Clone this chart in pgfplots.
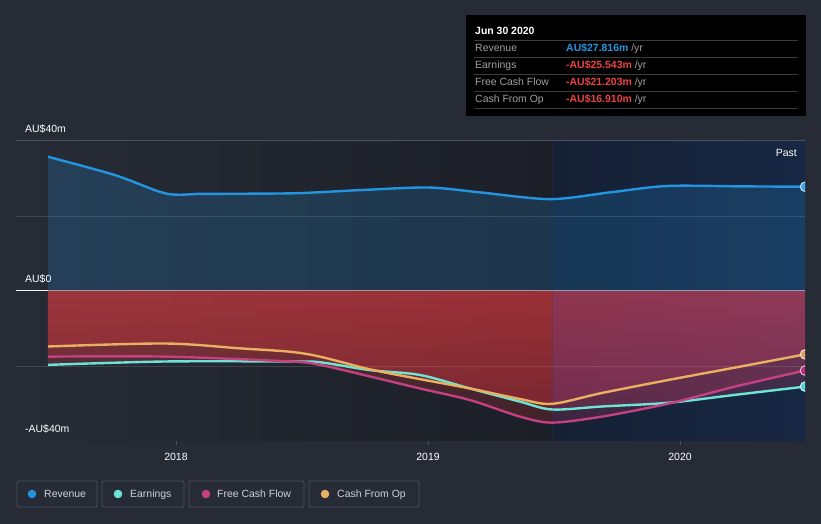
\documentclass[border=0pt]{standalone}
\usepackage{pgfplots}
\pgfplotsset{compat=1.18}
\usepackage{fontspec}
\setmainfont{Liberation Sans}
\definecolor{bg}{RGB}{38,43,54}
\definecolor{band}{RGB}{28,31,39}
\definecolor{pastL}{RGB}{22,32,52}
\definecolor{pastR}{RGB}{23,40,68}
\definecolor{pastedge}{RGB}{40,52,80}
\definecolor{rev}{RGB}{35,148,223}
\definecolor{earn}{RGB}{108,229,213}
\definecolor{fcf}{RGB}{196,64,128}
\definecolor{cfo}{RGB}{232,176,96}
\definecolor{redT}{RGB}{255,64,68}
\definecolor{redB}{RGB}{195,46,56}
\definecolor{purT}{RGB}{240,74,104}
\definecolor{purB}{RGB}{190,56,100}
\definecolor{gridc}{RGB}{74,80,92}
\definecolor{lgbord}{RGB}{75,82,98}
\definecolor{lgtext}{RGB}{205,209,216}
\definecolor{ttlab}{RGB}{160,160,160}
\definecolor{ttsep}{RGB}{60,60,60}
\definecolor{negred}{RGB}{235,68,68}
\definecolor{valblue}{RGB}{35,150,225}
\newcommand\fs{\fontsize{10.5}{12}\selectfont}

\pgfplotstableread{
x y
2017.492 35.8
2017.758 30.9
2017.960 26.0
2018.100 25.9
2018.300 25.95
2018.492 26.1
2018.730 26.9
2019.000 27.6
2019.206 26.3
2019.484 24.5
2019.722 26.3
2019.948 28.0
2020.238 27.9
2020.496 27.8
}\revtab

\pgfplotstableread{
x y
2017.492 -14.8
2017.956 -14.0
2018.254 -15.3
2018.452 -16.2
2018.571 -17.5
2018.770 -20.9
2018.968 -23.5
2019.167 -26.0
2019.365 -28.8
2019.492 -30.1
2019.690 -27.2
2019.956 -23.7
2020.220 -20.4
2020.496 -16.9
}\cfotab

\pgfplotstableread{
x y
2017.492 -19.7
2017.956 -18.8
2018.452 -18.8
2018.571 -19.0
2018.770 -21.1
2018.968 -22.4
2019.167 -26.0
2019.365 -29.5
2019.492 -31.6
2019.690 -30.8
2019.956 -29.8
2020.218 -27.7
2020.496 -25.5
}\earntab

\pgfplotstableread{
x y
2017.492 -17.5
2017.956 -17.5
2018.452 -18.8
2018.571 -19.7
2018.770 -22.8
2018.968 -26.0
2019.167 -29.1
2019.365 -33.5
2019.492 -35.1
2019.690 -33.5
2019.956 -30.0
2020.218 -25.5
2020.496 -21.2
}\fcftab

\begin{document}
\begin{tikzpicture}[x=1bp,y=1bp]
\fill[bg] (0,0) rectangle (821,524);
\path[use as bounding box] (0,0) rectangle (821,524);
\begin{axis}[
  at={(16bp,83bp)}, anchor=south west,
  width=789bp, height=300bp, scale only axis,
  xmin=2017.3651, xmax=2020.496, ymin=-40, ymax=40,
  clip marker paths=true,
  axis x line*=bottom, axis y line=none,
  x axis line style={draw=gridc, line width=1bp},
  xtick={2018,2019,2020}, xticklabels={2018,2019,2020},
  tick align=outside, major tick length=4bp,
  xtick style={draw=gridc, line width=0.8bp},
  xticklabel style={font=\fs, text=white, yshift=-5bp},
]
% background bands
\shade[left color=bg, right color=band, draw=none] (axis cs:2017.3651,-40) rectangle (axis cs:2019.492,40);
\shade[left color=pastL, right color=pastR, draw=none] (axis cs:2019.492,-40) rectangle (axis cs:2020.496,40);
% fills
\addplot[draw=none, fill=rev, fill opacity=0.2, smooth] table[x=x,y=y]{\revtab} \closedcycle;
\begin{scope}
\clip (axis cs:2017.3651,-40) rectangle (axis cs:2019.492,40);
\addplot[draw=none, top color=redT, bottom color=redB, fill opacity=0.24, smooth] table[x=x,y=y]{\cfotab} \closedcycle;
\addplot[draw=none, top color=redT, bottom color=redB, fill opacity=0.24, smooth] table[x=x,y=y]{\earntab} \closedcycle;
\addplot[draw=none, top color=redT, bottom color=redB, fill opacity=0.24, smooth] table[x=x,y=y]{\fcftab} \closedcycle;
\end{scope}
\begin{scope}
\clip (axis cs:2019.492,-40) rectangle (axis cs:2020.496,40);
\addplot[draw=none, top color=purT, bottom color=purB, fill opacity=0.24, smooth] table[x=x,y=y]{\cfotab} \closedcycle;
\addplot[draw=none, top color=purT, bottom color=purB, fill opacity=0.24, smooth] table[x=x,y=y]{\earntab} \closedcycle;
\addplot[draw=none, top color=purT, bottom color=purB, fill opacity=0.24, smooth] table[x=x,y=y]{\fcftab} \closedcycle;
\end{scope}
\draw[pastedge, line width=0.5bp, opacity=0.35] (axis cs:2019.492,-40) -- (axis cs:2019.492,40);
% grid
\draw[gridc, line width=1bp] (axis cs:2017.3651,40) -- (axis cs:2020.496,40);
\draw[white, opacity=0.12, line width=0.8bp] (axis cs:2017.3651,20) -- (axis cs:2020.496,20);
\draw[white, opacity=0.12, line width=0.8bp] (axis cs:2017.3651,-20) -- (axis cs:2020.496,-20);
\draw[white, opacity=0.95, line width=1bp] (axis cs:2017.3651,0) -- (axis cs:2017.492,0);
\draw[white, opacity=0.5, line width=1bp] (axis cs:2017.492,0) -- (axis cs:2020.496,0);
% lines
\addplot[rev, line width=2.4bp, smooth] table[x=x,y=y]{\revtab};
\addplot[earn, line width=2.4bp, smooth] table[x=x,y=y]{\earntab};
\addplot[fcf, line width=2.4bp, smooth] table[x=x,y=y]{\fcftab};
\addplot[cfo, line width=2.4bp, smooth] table[x=x,y=y]{\cfotab};
% end markers
\addplot[only marks, mark=*, mark size=4.8bp, mark options={fill=rev!85!white, draw=white!75!rev, line width=0.9bp}] coordinates {(2020.496,27.8)};
\addplot[only marks, mark=*, mark size=4.8bp, mark options={fill=earn!75!rev, draw=white!70!earn, line width=0.9bp}] coordinates {(2020.496,-25.5)};
\addplot[only marks, mark=*, mark size=4.8bp, mark options={fill=fcf!75!violet, draw=white!70!fcf, line width=0.9bp}] coordinates {(2020.496,-21.2)};
\addplot[only marks, mark=*, mark size=4.8bp, mark options={fill=cfo!80!gray, draw=white!70!cfo, line width=0.9bp}] coordinates {(2020.496,-16.9)};
\end{axis}
% y labels
\node[anchor=base west, text=white, font=\fs, inner sep=0] at (25,391) {AU\$40m};
\node[anchor=base west, text=white, font=\fs, inner sep=0] at (25,241) {AU\$0};
\node[anchor=base west, text=white, font=\fs, inner sep=0] at (25,91) {-AU\$40m};
\node[anchor=base east, text=white, font=\fs, inner sep=0] at (797,367) {Past};
% tooltip
\fill[black] (466,509) rectangle (806,408);
\foreach \yy in {484,467,450,433,416} {\draw[ttsep, line width=0.8bp] (474,\yy) -- (798,\yy);}
\node[anchor=base west, text=white, font=\fs\bfseries, inner sep=0] at (475,489) {Jun 30 2020};
\node[anchor=base west, text=ttlab, font=\fs, inner sep=0] at (475,472) {Revenue};
\node[anchor=base west, text=ttlab, font=\fs, inner sep=0] at (475,455) {Earnings};
\node[anchor=base west, text=ttlab, font=\fs, inner sep=0] at (475,438) {Free Cash Flow};
\node[anchor=base west, text=ttlab, font=\fs, inner sep=0] at (475,421) {Cash From Op};
\node[anchor=base west, font=\fs, inner sep=0] at (566,472) {\textcolor{valblue}{\bfseries AU\$27.816m} \textcolor{ttlab}{/yr}};
\node[anchor=base west, font=\fs, inner sep=0] at (566,455) {\textcolor{negred}{\bfseries -AU\$25.543m} \textcolor{ttlab}{/yr}};
\node[anchor=base west, font=\fs, inner sep=0] at (566,438) {\textcolor{negred}{\bfseries -AU\$21.203m} \textcolor{ttlab}{/yr}};
\node[anchor=base west, font=\fs, inner sep=0] at (566,421) {\textcolor{negred}{\bfseries -AU\$16.910m} \textcolor{ttlab}{/yr}};
% legend
\draw[lgbord, line width=0.8bp, rounded corners=2bp] (17,43) rectangle (97,17);
\draw[lgbord, line width=0.8bp, rounded corners=2bp] (102,43) rectangle (184,17);
\draw[lgbord, line width=0.8bp, rounded corners=2bp] (189,43) rectangle (304,17);
\draw[lgbord, line width=0.8bp, rounded corners=2bp] (309,43) rectangle (419,17);
\fill[rev] (32,30) circle (4.3);
\fill[earn] (118,30) circle (4.3);
\fill[fcf] (206,30) circle (4.3);
\fill[cfo] (325,30) circle (4.3);
\node[anchor=base west, text=lgtext, font=\fs, inner sep=0] at (44,26.2) {Revenue};
\node[anchor=base west, text=lgtext, font=\fs, inner sep=0] at (130,26.2) {Earnings};
\node[anchor=base west, text=lgtext, font=\fs, inner sep=0] at (217,26.2) {Free Cash Flow};
\node[anchor=base west, text=lgtext, font=\fs, inner sep=0] at (337,26.2) {Cash From Op};
\end{tikzpicture}
\end{document}
